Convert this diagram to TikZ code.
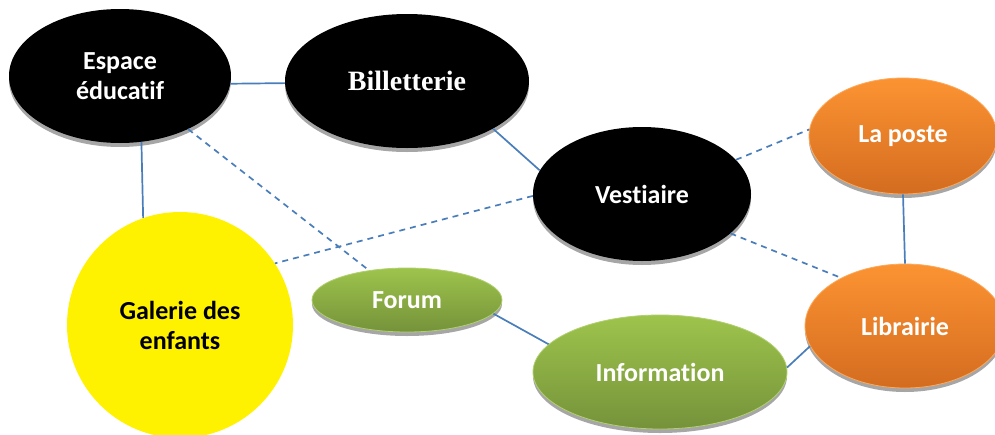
\documentclass[tikz,border=0pt]{standalone}
\usepackage{fontspec}
\setmainfont[Ligatures=NoCommon]{Carlito}
\newfontfamily\billfont{Liberation Serif}
\usetikzlibrary{shapes.geometric,shadows}
\definecolor{lienbleu}{RGB}{74,126,187}
\definecolor{vertclair}{RGB}{158,196,76}
\definecolor{vertfonce}{RGB}{117,146,58}
\definecolor{orclair}{RGB}{252,147,50}
\definecolor{orfonce}{RGB}{212,108,32}
\tikzset{
  lien/.style={lienbleu, line width=1.7pt},
  pointille/.style={lien, dash pattern=on 6pt off 5pt},
  bulle/.style={ellipse, inner sep=0pt, align=center, text=white,
    font=\bfseries\fontsize{26}{30}\selectfont,
    drop shadow={shadow xshift=0pt, shadow yshift=-4pt, fill=black!35, opacity=1}},
  noire/.style={bulle, fill=black},
  verte/.style={bulle, top color=vertclair, bottom color=vertfonce, draw=vertclair!80!white, line width=0.8pt},
  orangee/.style={bulle, top color=orclair, bottom color=orfonce, draw=orclair!80!white, line width=0.8pt},
}
\begin{document}
\begin{tikzpicture}[x=1pt,y=-1pt]
  \useasboundingbox (0,0) rectangle (995,434);
  % les bulles
  \node[noire, minimum width=222, minimum height=134] (espace) at (120,76) {Espace\\éducatif};
  \node[noire, minimum width=244, minimum height=134, font=\billfont\bfseries\fontsize{28}{32}\selectfont] (billet) at (407,81) {Billetterie};
  \node[noire, minimum width=218, minimum height=134] (vest) at (642,194) {Vestiaire};
  \node[orangee, minimum width=188, minimum height=116] (poste) at (903,136) {La poste};
  \node[orangee, minimum width=200, minimum height=124] (libr) at (905,326) {Librairie};
  \node[verte, minimum width=190, minimum height=64] (forum) at (407,300) {Forum};
  \node[verte, minimum width=254, minimum height=114] (info) at (660,372) {Information};
  \node[circle, fill=yellow, minimum size=226, inner sep=0pt, align=center,
    font=\bfseries\fontsize{26}{30}\selectfont] (galerie) at (180,325) {Galerie des\\enfants};
  % les liens
  \draw[lien] (espace.-4) -- (billet.181);
  \draw[lien] (espace.-72) -- (galerie.109);
  \draw[lien] (billet.-29) -- (vest.167);
  \draw[lien] (poste.south) -- (libr.north);
  \draw[lien] (forum.-9) -- (info.166);
  \draw[lien] (info.2) -- (libr.192);
  \draw[pointille] (espace) -- (forum);
  \draw[pointille] (vest.181) -- (galerie.33);
  \draw[pointille] (vest.20) -- (poste.176);
  \draw[pointille] (vest.-24) -- (libr.143);
\end{tikzpicture}
\end{document}
